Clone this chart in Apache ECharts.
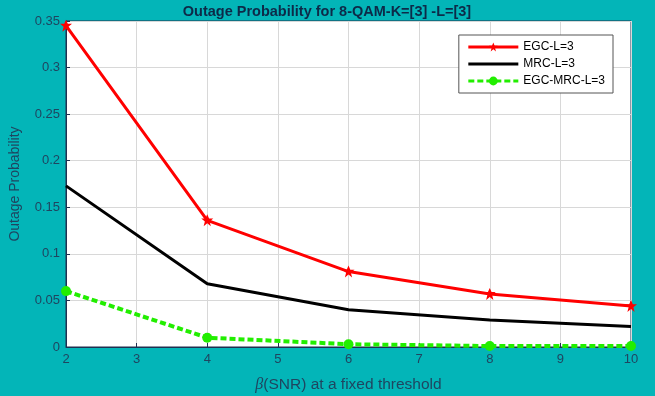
<!DOCTYPE html>
<html>
<head>
<meta charset="utf-8">
<script src="https://cdn.jsdelivr.net/npm/echarts@6/dist/echarts.min.js"></script>
<style>
  html, body { margin: 0; padding: 0; background: #03b5b8; }
  #main { width: 655px; height: 396px; }
</style>
</head>
<body>
<div id="main"></div>
<script>
var snr = [2, 4, 6, 8, 10];
var egc = [0.345, 0.136, 0.081, 0.057, 0.044];
var mrc = [0.173, 0.068, 0.040, 0.029, 0.022];
var egcMrc = [0.060, 0.010, 0.003, 0.001, 0.001];

function pairs(ys) {
    return snr.map(function (x, i) { return [x, ys[i]]; });
}

var textColor = '#1f4560';
var myChart = echarts.init(document.getElementById('main'));

var option = {
    backgroundColor: '#03b5b8',
    animation: false,
    title: {
        text: 'Outage Probability for 8-QAM-K=[3] -L=[3]',
        left: 322,
        textAlign: 'center',
        top: -1,
        textStyle: {
            fontFamily: 'Liberation Sans',
            fontSize: 14.5,
            fontWeight: 'bold',
            color: '#0d2a48'
        }
    },
    legend: {
        right: 42,
        top: 35,
        orient: 'vertical',
        itemWidth: 50,
        itemHeight: 11,
        itemGap: 5,
        padding: [6, 8, 6, 8],
        backgroundColor: '#ffffff',
        borderColor: '#555555',
        borderWidth: 1,
        borderRadius: 0,
        lineStyle: { width: 3 },
        textStyle: { fontFamily: 'Liberation Sans', fontSize: 12, color: '#000' },
        data: [
            'EGC-L=3',
            { name: 'MRC-L=3', itemStyle: { opacity: 0 } },
            'EGC-MRC-L=3'
        ]
    },
    grid: {
        left: 66, right: 24, top: 21, bottom: 49,
        outerBoundsMode: 'none',
        containLabel: false,
        show: true,
        backgroundColor: '#ffffff',
        borderColor: '#1f3050',
        borderWidth: 1
    },
    xAxis: {
        type: 'value',
        min: 2,
        max: 10,
        interval: 1,
        name: '{b|β}(SNR) at a fixed threshold',
        nameLocation: 'middle',
        nameGap: 30,
        nameTextStyle: {
            fontFamily: 'Liberation Sans',
            fontSize: 15.5,
            color: textColor,
            rich: { b: { fontStyle: 'italic', fontFamily: 'Liberation Serif', fontSize: 16, color: textColor } }
        },
        axisLine: { onZero: false, lineStyle: { color: '#1f3050' } },
        axisTick: { inside: true, length: 4, lineStyle: { color: '#1f3050' } },
        axisLabel: { fontFamily: 'Liberation Sans', fontSize: 13, color: textColor, margin: 6 },
        splitLine: { show: true, lineStyle: { color: '#d8d8d8' } }
    },
    yAxis: {
        type: 'value',
        min: 0,
        max: 0.35,
        interval: 0.05,
        name: 'Outage Probability',
        nameLocation: 'middle',
        nameGap: 44,
        nameTextStyle: { fontFamily: 'Liberation Sans', fontSize: 14, color: textColor },
        axisLine: { show: true, lineStyle: { color: '#1f3050' } },
        axisTick: { inside: true, length: 4, lineStyle: { color: '#1f3050' } },
        axisLabel: {
            fontFamily: 'Liberation Sans', fontSize: 13, color: textColor, margin: 6,
            formatter: function (v) { return +v.toFixed(2) + ''; }
        },
        splitLine: { show: true, lineStyle: { color: '#d8d8d8' } }
    },
    series: [{
        name: 'EGC-L=3',
        type: 'line',
        data: pairs(egc),
        color: '#ff0000',
        symbol: 'path://M0,-10 L3,-3 L10,-3 L4,2 L6,10 L0,5 L-6,10 L-4,2 L-10,-3 L-3,-3 Z',
        symbolSize: 12,
        lineStyle: { width: 3, color: '#ff0000' },
        itemStyle: { color: '#ff0000' },
        z: 3
    }, {
        name: 'MRC-L=3',
        type: 'line',
        data: pairs(mrc),
        color: '#000000',
        showSymbol: false,
        symbol: 'none',
        lineStyle: { width: 3, color: '#000000' },
        z: 2
    }, {
        name: 'EGC-MRC-L=3',
        type: 'line',
        data: pairs(egcMrc),
        color: '#22ee00',
        symbol: 'circle',
        symbolSize: 10,
        lineStyle: { width: 4, type: [6, 3], color: '#22ee00' },
        itemStyle: { color: '#22ee00' },
        z: 4
    }]
};
myChart.setOption(option);
</script>
</body>
</html>
